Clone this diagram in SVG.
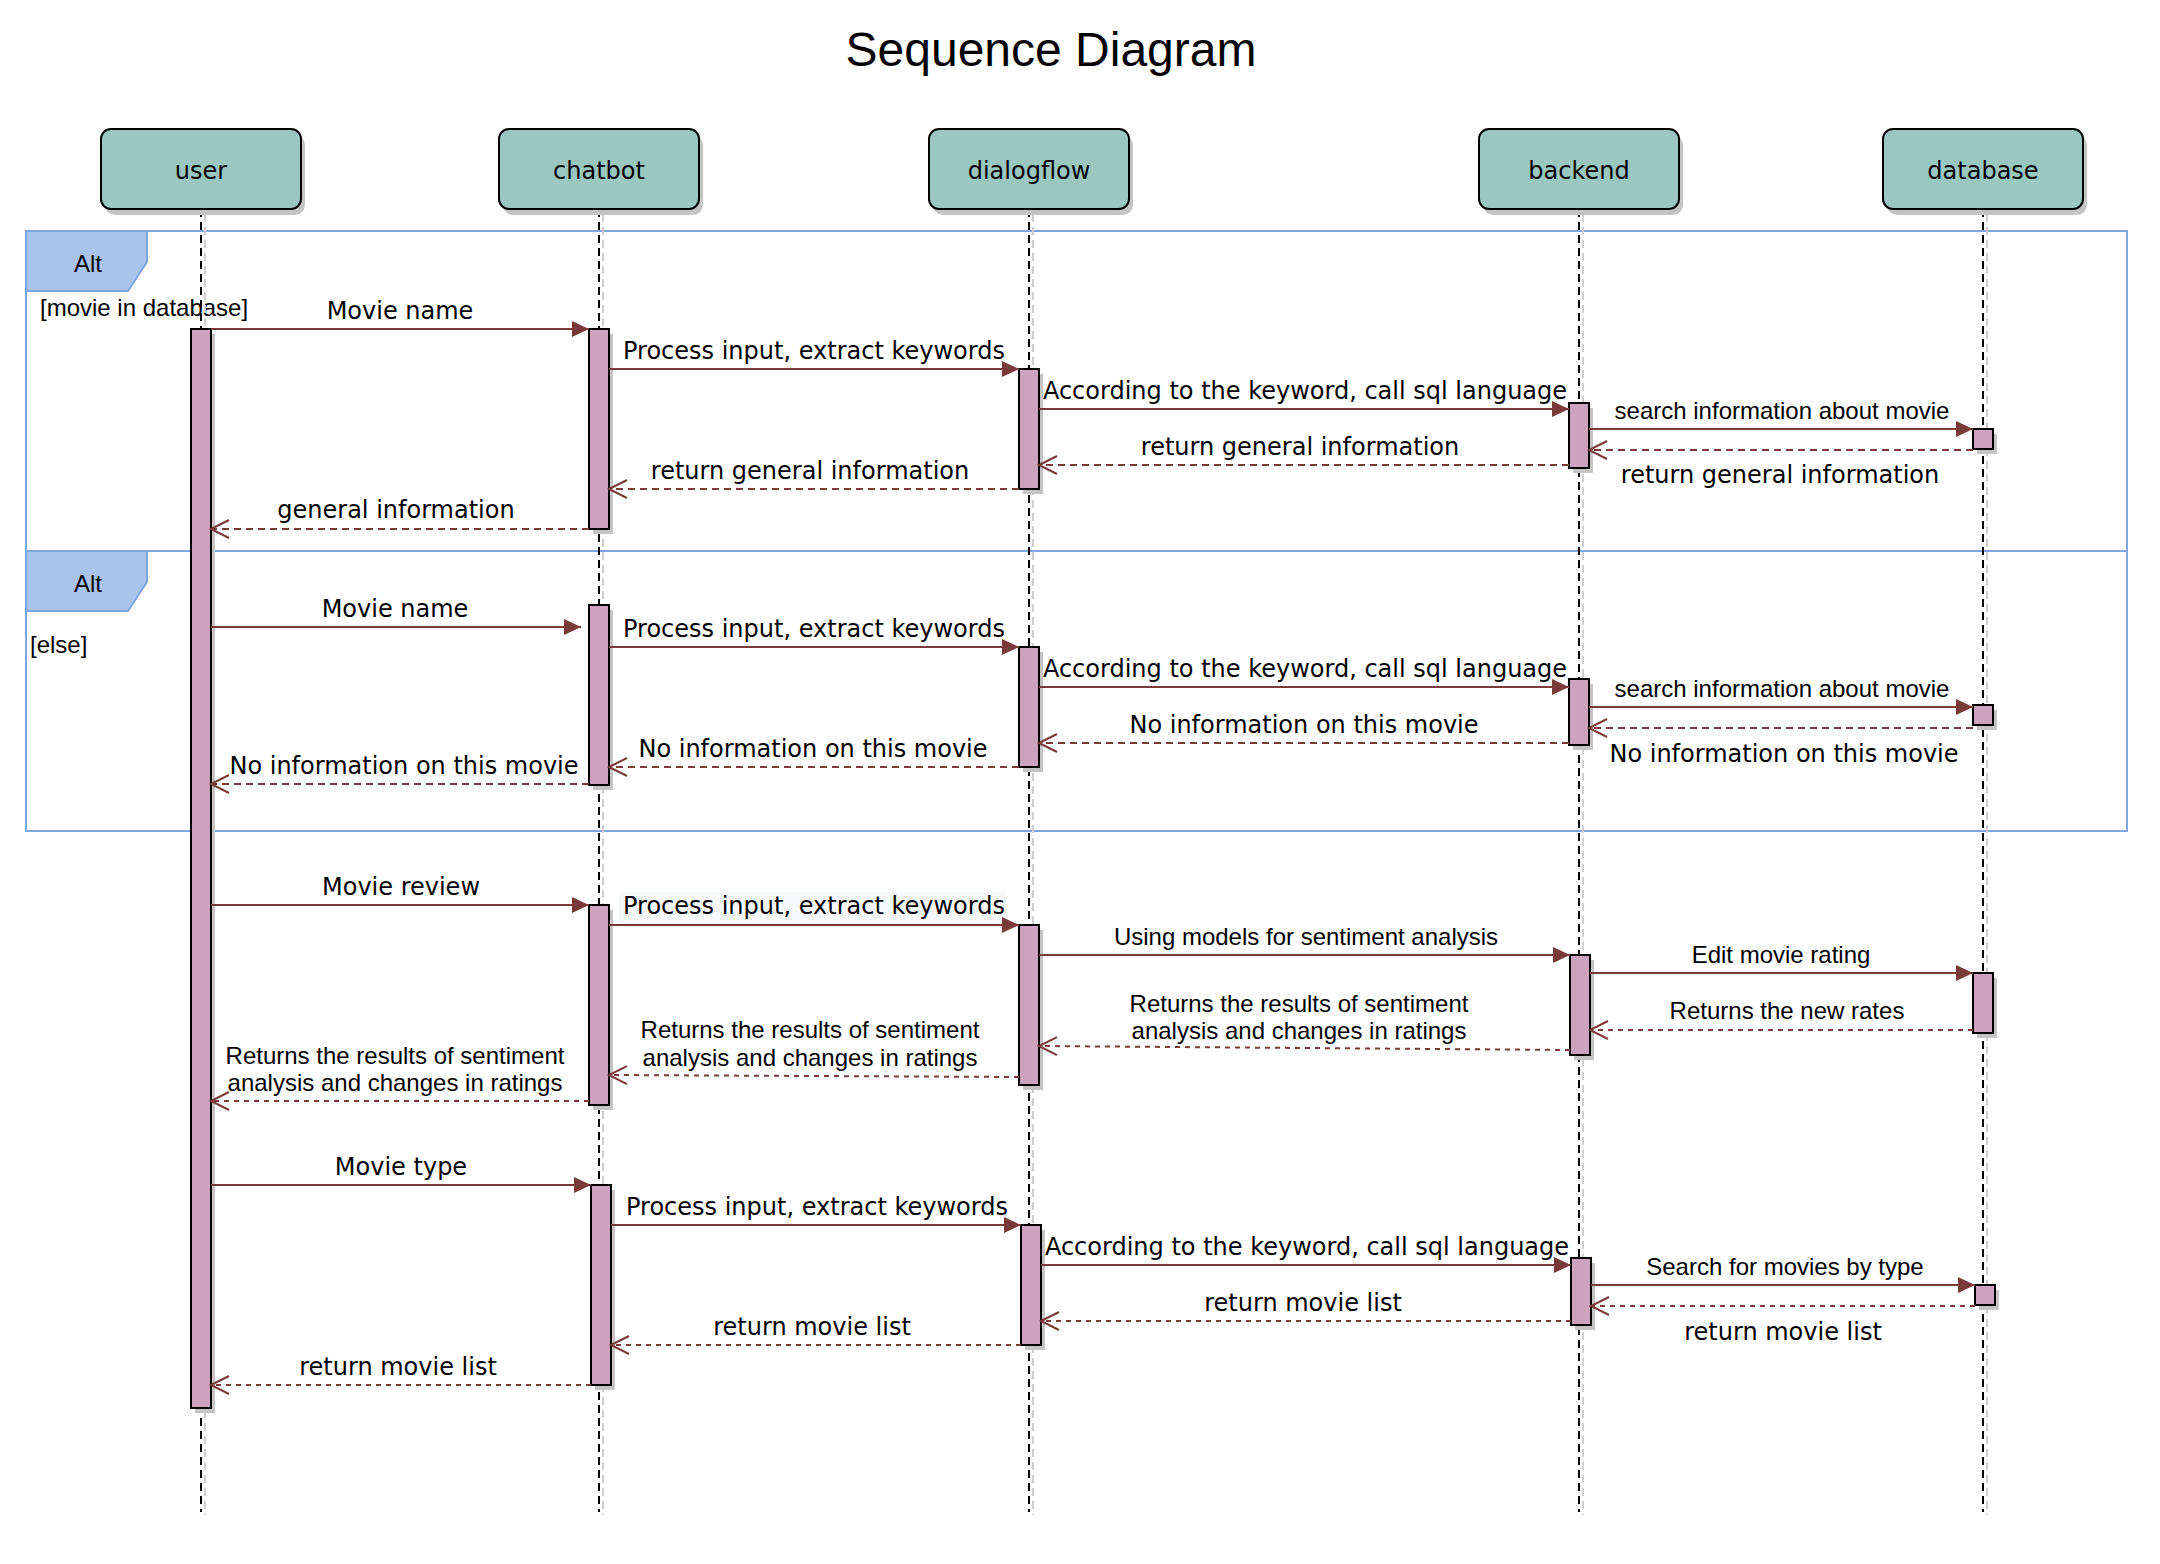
<svg xmlns="http://www.w3.org/2000/svg" width="2160" height="1564" viewBox="0 0 2160 1564">
<style>
.box{fill:#9AC7BF;stroke:#000;stroke-width:2}
.act{fill:#CDA2BE;stroke:#000;stroke-width:2}
.sh{fill:#c4c4c4;stroke:none}
.life{stroke:#000;stroke-width:2;stroke-dasharray:8 5;fill:none}
.lifesh{stroke:#cfcfcf;stroke-width:2;stroke-dasharray:8 5;fill:none}
.frame{fill:none;stroke:#7EA6E0;stroke-width:2}
.tag{fill:#A9C4EB;stroke:#7EA6E0;stroke-width:2}
.msg{stroke:#7B3A3A;stroke-width:2;fill:none;marker-end:url(#solid)}
.ret{stroke:#7B3A3A;stroke-width:2;fill:none;stroke-dasharray:7 5;marker-end:url(#open)}
.ret2{stroke:#7B3A3A;stroke-width:2;fill:none;stroke-dasharray:5 5;marker-end:url(#open)}
.dv{font-family:"DejaVu Sans",Verdana,sans-serif;font-size:24px;fill:#000}
.ar{font-family:"Liberation Sans",Arial,sans-serif;font-size:24px;fill:#000}
.c{text-anchor:middle}
.title{font-family:"Liberation Sans",Arial,sans-serif;font-size:48px;fill:#000;text-anchor:middle}
</style>
<defs>
<marker id="solid" markerUnits="userSpaceOnUse" markerWidth="18" markerHeight="18" refX="17" refY="8" orient="auto" overflow="visible">
<path d="M0,0 L17,8 L0,16 z" fill="#7B3A3A"/>
</marker>
<marker id="open" markerUnits="userSpaceOnUse" markerWidth="20" markerHeight="20" refX="18" refY="9" orient="auto" overflow="visible">
<path d="M0,0 L18,9 L0,18" fill="none" stroke="#7B3A3A" stroke-width="2"/>
</marker>
</defs>
<rect width="2160" height="1564" fill="#fff"/>
<text class="title" x="1051" y="66">Sequence Diagram</text>

<g id="frames">
<g id="alt1">
<rect class="frame" x="26" y="231" width="2101" height="320"/>
<path class="tag" d="M26,231 H147 V262 L128,291 H26 Z"/>
<text class="ar c" x="88" y="272">Alt</text>
<text class="ar" x="40" y="316">[movie in database]</text>
</g>
<g id="alt2">
<rect class="frame" x="26" y="551" width="2101" height="280"/>
<path class="tag" d="M26,551 H147 V582 L128,611 H26 Z"/>
<text class="ar c" x="88" y="592">Alt</text>
<text class="ar" x="30" y="653">[else]</text>
</g>
</g>

<g id="user">
<line class="lifesh" x1="205" y1="214" x2="205" y2="1515"/>
<line class="life" x1="201" y1="209" x2="201" y2="1512"/>
<rect class="sh" x="105" y="135" width="200" height="80" rx="10"/>
<rect class="box" x="101" y="129" width="200" height="80" rx="10"/>
<text class="dv c" x="201" y="179">user</text>
<rect class="sh" x="195" y="334" width="20" height="1079"/>
<rect class="act" x="191" y="329" width="20" height="1079"/>
</g>

<g id="chatbot">
<line class="lifesh" x1="603" y1="214" x2="603" y2="1515"/>
<line class="life" x1="599" y1="209" x2="599" y2="1512"/>
<rect class="sh" x="503" y="135" width="200" height="80" rx="10"/>
<rect class="box" x="499" y="129" width="200" height="80" rx="10"/>
<text class="dv c" x="599" y="179">chatbot</text>
<rect class="sh" x="593" y="334" width="20" height="200"/>
<rect class="act" x="589" y="329" width="20" height="200"/>
<rect class="sh" x="593" y="610" width="20" height="180"/>
<rect class="act" x="589" y="605" width="20" height="180"/>
<rect class="sh" x="593" y="910" width="20" height="200"/>
<rect class="act" x="589" y="905" width="20" height="200"/>
<rect class="sh" x="595" y="1190" width="20" height="200"/>
<rect class="act" x="591" y="1185" width="20" height="200"/>
</g>

<g id="dialogflow">
<line class="lifesh" x1="1033" y1="214" x2="1033" y2="1515"/>
<line class="life" x1="1029" y1="209" x2="1029" y2="1512"/>
<rect class="sh" x="933" y="135" width="200" height="80" rx="10"/>
<rect class="box" x="929" y="129" width="200" height="80" rx="10"/>
<text class="dv c" x="1029" y="179">dialogflow</text>
<rect class="sh" x="1023" y="374" width="20" height="120"/>
<rect class="act" x="1019" y="369" width="20" height="120"/>
<rect class="sh" x="1023" y="652" width="20" height="120"/>
<rect class="act" x="1019" y="647" width="20" height="120"/>
<rect class="sh" x="1023" y="930" width="20" height="160"/>
<rect class="act" x="1019" y="925" width="20" height="160"/>
<rect class="sh" x="1025" y="1230" width="20" height="120"/>
<rect class="act" x="1021" y="1225" width="20" height="120"/>
</g>

<g id="backend">
<line class="lifesh" x1="1583" y1="214" x2="1583" y2="1515"/>
<line class="life" x1="1579" y1="209" x2="1579" y2="1512"/>
<rect class="sh" x="1483" y="135" width="200" height="80" rx="10"/>
<rect class="box" x="1479" y="129" width="200" height="80" rx="10"/>
<text class="dv c" x="1579" y="179">backend</text>
<rect class="sh" x="1573" y="408" width="20" height="65"/>
<rect class="act" x="1569" y="403" width="20" height="65"/>
<rect class="sh" x="1573" y="684" width="20" height="66"/>
<rect class="act" x="1569" y="679" width="20" height="66"/>
<rect class="sh" x="1574" y="960" width="20" height="100"/>
<rect class="act" x="1570" y="955" width="20" height="100"/>
<rect class="sh" x="1575" y="1263" width="20" height="67"/>
<rect class="act" x="1571" y="1258" width="20" height="67"/>
</g>

<g id="database">
<line class="lifesh" x1="1987" y1="214" x2="1987" y2="1515"/>
<line class="life" x1="1983" y1="209" x2="1983" y2="1512"/>
<rect class="sh" x="1887" y="135" width="200" height="80" rx="10"/>
<rect class="box" x="1883" y="129" width="200" height="80" rx="10"/>
<text class="dv c" x="1983" y="179">database</text>
<rect class="sh" x="1977" y="434" width="20" height="20"/>
<rect class="act" x="1973" y="429" width="20" height="20"/>
<rect class="sh" x="1977" y="710" width="20" height="20"/>
<rect class="act" x="1973" y="705" width="20" height="20"/>
<rect class="sh" x="1977" y="978" width="20" height="60"/>
<rect class="act" x="1973" y="973" width="20" height="60"/>
<rect class="sh" x="1979" y="1290" width="20" height="20"/>
<rect class="act" x="1975" y="1285" width="20" height="20"/>
</g>

<g id="connectors">
<!-- section 1 -->
<line class="msg" x1="211" y1="329" x2="589" y2="329"/>
<text class="dv c" x="400" y="319">Movie name</text>
<line class="msg" x1="609" y1="369" x2="1019" y2="369"/>
<text class="dv c" x="814" y="359">Process input, extract keywords</text>
<line class="msg" x1="1039" y1="409" x2="1569" y2="409"/>
<text class="dv c" x="1305" y="399">According to the keyword, call sql language</text>
<line class="msg" x1="1589" y1="429" x2="1973" y2="429"/>
<text class="ar c" x="1782" y="419">search information about movie</text>
<line class="ret" x1="1973" y1="450" x2="1589" y2="450"/>
<text class="dv c" x="1780" y="483">return general information</text>
<line class="ret" x1="1569" y1="465" x2="1039" y2="465"/>
<text class="dv c" x="1300" y="455">return general information</text>
<line class="ret" x1="1019" y1="489" x2="609" y2="489"/>
<text class="dv c" x="810" y="479">return general information</text>
<line class="ret" x1="589" y1="529" x2="211" y2="529"/>
<text class="dv c" x="396" y="518">general information</text>
<!-- section 2 -->
<line class="msg" x1="211" y1="627" x2="581" y2="627"/>
<text class="dv c" x="395" y="617">Movie name</text>
<line class="msg" x1="609" y1="647" x2="1019" y2="647"/>
<text class="dv c" x="814" y="637">Process input, extract keywords</text>
<line class="msg" x1="1039" y1="687" x2="1569" y2="687"/>
<text class="dv c" x="1305" y="677">According to the keyword, call sql language</text>
<line class="msg" x1="1589" y1="707" x2="1973" y2="707"/>
<text class="ar c" x="1782" y="697">search information about movie</text>
<line class="ret" x1="1973" y1="728" x2="1589" y2="728"/>
<text class="dv c" x="1784" y="762">No information on this movie</text>
<line class="ret" x1="1569" y1="743" x2="1039" y2="743"/>
<text class="dv c" x="1304" y="733">No information on this movie</text>
<line class="ret" x1="1019" y1="767" x2="609" y2="767"/>
<text class="dv c" x="813" y="757">No information on this movie</text>
<line class="ret" x1="589" y1="784" x2="211" y2="784"/>
<text class="dv c" x="404" y="774">No information on this movie</text>
<!-- section 3 -->
<line class="msg" x1="211" y1="905" x2="589" y2="905"/>
<text class="dv c" x="401" y="895">Movie review</text>
<rect x="619" y="892" width="388" height="30" fill="#F7F8FA"/>
<line class="msg" x1="609" y1="925" x2="1019" y2="925"/>
<text class="dv c" x="814" y="914">Process input, extract keywords</text>
<line class="msg" x1="1039" y1="955" x2="1570" y2="955"/>
<text class="ar c" x="1306" y="945">Using models for sentiment analysis</text>
<line class="msg" x1="1590" y1="973" x2="1973" y2="973"/>
<text class="ar c" x="1781" y="963">Edit movie rating</text>
<line class="ret2" x1="1973" y1="1030" x2="1590" y2="1030"/>
<text class="ar c" x="1787" y="1019">Returns the new rates</text>
<line class="ret2" x1="1570" y1="1050" x2="1039" y2="1046"/>
<text class="ar c" x="1299" y="1012">Returns the results of sentiment</text>
<text class="ar c" x="1299" y="1039">analysis and changes in ratings</text>
<line class="ret2" x1="1019" y1="1077" x2="609" y2="1075"/>
<text class="ar c" x="810" y="1038">Returns the results of sentiment</text>
<text class="ar c" x="810" y="1066">analysis and changes in ratings</text>
<line class="ret2" x1="589" y1="1101" x2="211" y2="1101"/>
<text class="ar c" x="395" y="1064">Returns the results of sentiment</text>
<text class="ar c" x="395" y="1091">analysis and changes in ratings</text>
<!-- section 4 -->
<line class="msg" x1="211" y1="1185" x2="591" y2="1185"/>
<text class="dv c" x="401" y="1175">Movie type</text>
<line class="msg" x1="611" y1="1225" x2="1021" y2="1225"/>
<text class="dv c" x="817" y="1215">Process input, extract keywords</text>
<line class="msg" x1="1041" y1="1265" x2="1571" y2="1265"/>
<text class="dv c" x="1307" y="1255">According to the keyword, call sql language</text>
<line class="msg" x1="1591" y1="1285" x2="1975" y2="1285"/>
<text class="ar c" x="1785" y="1275">Search for movies by type</text>
<line class="ret2" x1="1975" y1="1306" x2="1591" y2="1306"/>
<text class="dv c" x="1783" y="1340">return movie list</text>
<line class="ret2" x1="1571" y1="1321" x2="1041" y2="1321"/>
<text class="dv c" x="1303" y="1311">return movie list</text>
<line class="ret2" x1="1021" y1="1345" x2="611" y2="1345"/>
<text class="dv c" x="812" y="1335">return movie list</text>
<line class="ret2" x1="591" y1="1385" x2="211" y2="1385"/>
<text class="dv c" x="398" y="1375">return movie list</text>
</g>
</svg>
